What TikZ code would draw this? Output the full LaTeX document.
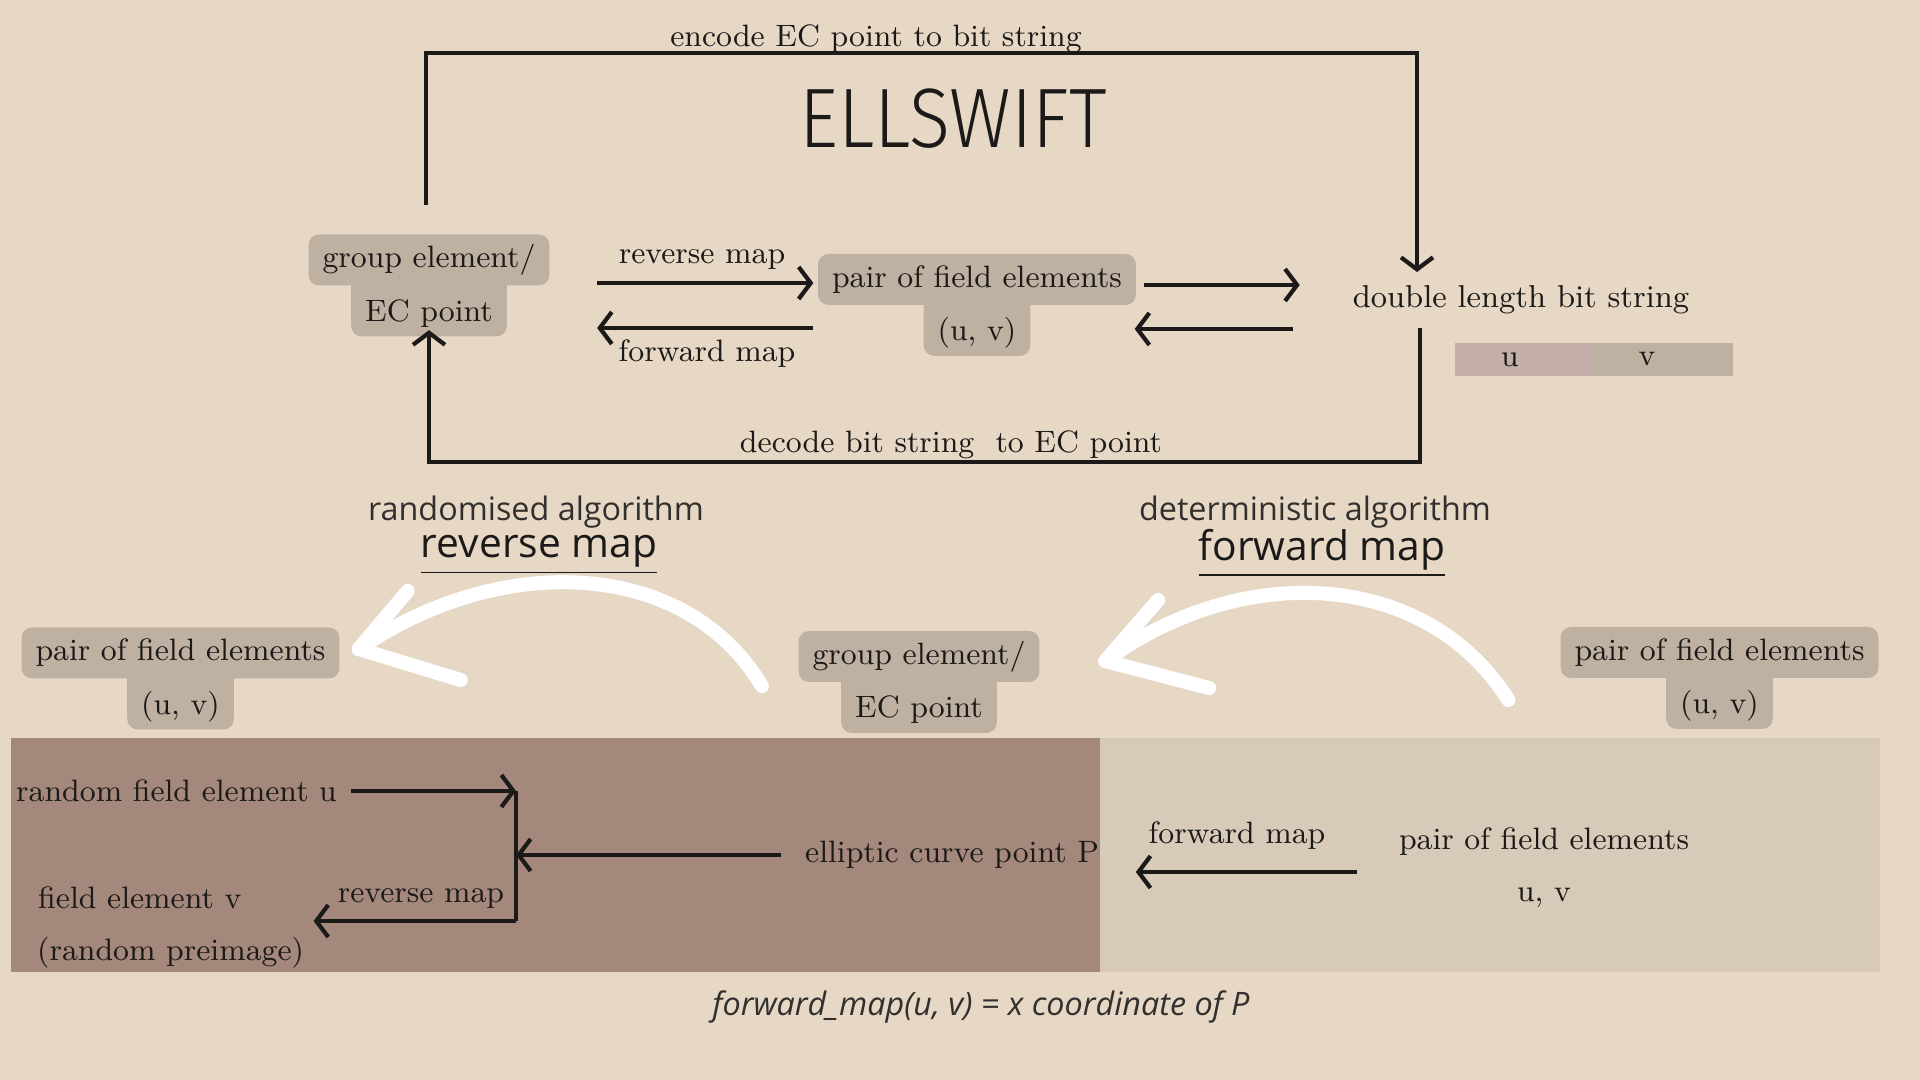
\documentclass[tikz,border=0pt]{standalone}
\usepackage{fontspec}
\newfontfamily\headfont{Open Sans}
\newfontfamily\titlefont{Fira Sans Light}[FakeStretch=0.9]
\usetikzlibrary{arrows.meta}
\definecolor{bg}{RGB}{230,216,197}
\definecolor{tabgrey}{RGB}{191,177,162}
\definecolor{darkpanel}{RGB}{164,136,124}
\definecolor{lightpanel}{RGB}{216,202,185}
\definecolor{ubar}{RGB}{195,174,168}
\definecolor{ink}{RGB}{28,26,24}
\definecolor{headgrey}{RGB}{50,48,46}
\tikzset{
	txt/.style={text=ink, inner sep=1pt, font=\fontsize{8.8}{10}\selectfont},
	tab/.style={txt, fill=tabgrey, rounded corners=3pt, inner xsep=0.14cm, inner ysep=0pt, minimum height=0.51cm},
	tabb/.style={tab, minimum height=0.62cm, text height=10.5pt, text depth=1.5pt},
	wire/.style={line width=1.2pt, draw=ink},
	arr/.style={wire, -{Straight Barb[length=1.2mm, width=3.2mm]}},
	swoosh/.style={white, line width=4pt, line cap=round, line join=round},
	heading/.style={text=headgrey, inner sep=1pt, font=\headfont\fontsize{9.2}{11}\selectfont},
	bighead/.style={heading, text=ink, font=\headfont\fontsize{11.6}{14}\selectfont}
}
\begin{document}
\begin{tikzpicture}
	\fill[bg] (0,0) rectangle (19.2,10.8);
	\useasboundingbox (0,0) rectangle (19.2,10.8);
	\fill[darkpanel] (0.11,1.08) rectangle (11.00,3.42);
	\fill[lightpanel] (11.00,1.08) rectangle (18.80,3.42);
	\fill[ubar] (14.55,7.04) rectangle (15.93,7.37);
	\fill[tabgrey] (15.93,7.04) rectangle (17.33,7.37);
	\node[text=ink, inner sep=0pt, font=\titlefont\fontsize{24}{28}\selectfont] (title) at (9.53,9.61) {ELLSWIFT};
	\foreach \n/\x/\y/\a/\b in {gr/4.29/8.20/{group element/}/{EC point}, pr/9.77/8.005/{pair of field elements}/{(u, v)}, lp/1.805/4.27/{pair of field elements}/{(u, v)}, mg/9.19/4.235/{group element/}/{EC point}, rp/17.195/4.275/{pair of field elements}/{(u, v)}} {
		\node[tabb] (\n b) at (\x,\y-0.455) {\b};
		\node[tab] (\n t) at (\x,\y) {\a};
	}
	\node[txt, font=\fontsize{9}{11}\selectfont] (dbl) at (15.21,7.80) {double length bit string};
	\node[txt] (ubit) at (15.10,7.205) {u};
	\node[txt] (vbit) at (16.47,7.205) {v};
	\node[txt, anchor=base] (enc) at (8.76,10.33) {encode EC point to bit string};
	\node[txt, anchor=base] (dec) at (9.51,6.27) {decode bit string\ \ to EC point};
	\node[txt] (revlbl) at (7.02,8.20) {reverse map};
	\node[txt] (fwdlbl) at (7.07,7.26) {forward map};
	\coordinate (encR) at (14.17,10.27);
	\coordinate (dblIn) at (14.17,8.08);
	\coordinate (dblOut) at (14.20,7.52);
	\coordinate (decR) at (14.20,6.18);
	\draw[arr] ([shift={(-0.03,0.29)}]grt.north) |- (encR) -- (dblIn);
	\draw[arr] (dblOut) -- (decR) -| ([yshift=2pt]grb.south);
	\draw[arr] ([shift={(0.47,-0.23)}]grt.east) -- ([shift={(-0.04,-0.035)}]prt.west);
	\draw[arr] ([shift={(-0.04,-0.485)}]prt.west) -- ([shift={(0.47,-0.68)}]grt.east);
	\draw[arr] ([shift={(0.07,-0.055)}]prt.east) -- ++(1.56,0);
	\draw[arr] ([shift={(1.56,-0.495)}]prt.east) -- ++(-1.58,0);
	\node[heading] (ra) at (5.36,5.68) {randomised algorithm};
	\node[bighead] (rm) at (5.39,5.25) {\underline{reverse map}};
	\node[heading] (da) at (13.15,5.68) {deterministic algorithm};
	\node[bighead] (fm) at (13.22,5.27) {\underline{forward map}};
	\coordinate (tipL) at ([shift={(0.185,0.04)}]lpt.east);
	\coordinate (tipR) at ([shift={(0.65,-0.045)}]mgt.east);
	\draw[swoosh] ([shift={(-0.36,-0.295)}]mgt.west) .. controls +(-0.75,1.26) and +(1.45,0.99) .. (tipL);
	\draw[swoosh] (tipL) ++(0.49,0.58) -- (tipL) -- ++(1.02,-0.31);
	\draw[swoosh] ([shift={(-0.515,-0.475)}]rpt.west) .. controls +(-0.82,1.30) and +(1.38,1.01) .. (tipR);
	\draw[swoosh] (tipR) ++(0.53,0.61) -- (tipR) -- ++(1.04,-0.27);
	\node[txt, anchor=west] (ru) at (0.12,2.89) {random field element u};
	\node[txt] (ecp) at (9.52,2.25) {elliptic curve point P};
	\node[txt, anchor=west] (fv) at (0.34,1.82) {field element v};
	\node[txt, anchor=west] (rp) at (0.33,1.27) {(random preimage)};
	\node[txt] (rmlbl) at (4.21,1.81) {reverse map};
	\coordinate (jt) at (5.16,2.89);
	\coordinate (jb) at (5.16,1.59);
	\draw[arr] ([xshift=0.1cm]ru.east) -- (jt);
	\draw[wire] (jt) -- (jb);
	\draw[arr] (jb) -- ([xshift=0.68cm]fv.east |- jb);
	\draw[arr] ([xshift=-0.2cm]ecp.west) -- (jt |- ecp.west);
	\node[txt] (fmlbl) at (12.37,2.44) {forward map};
	\node[txt] (pf) at (15.44,2.38) {pair of field elements};
	\node[txt] (uv) at (15.44,1.82) {u, v};
	\draw[arr] ([shift={(-0.38,-0.30)}]pf.west) -- ++(-2.21,0);
	\node[heading, font=\headfont\itshape\fontsize{9.2}{11}\selectfont] (formula) at (9.81,0.73) {forward\_map(u, v) = x coordinate of P};
\end{tikzpicture}
\end{document}
